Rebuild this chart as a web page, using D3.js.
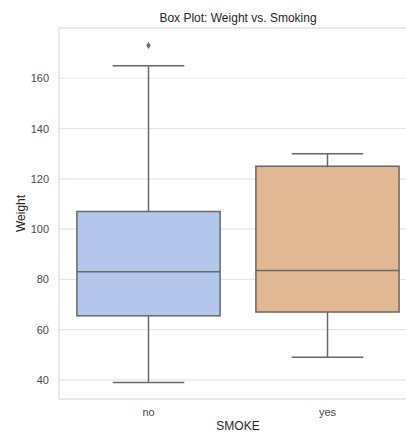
<!DOCTYPE html>
<html>
<head>
<meta charset="utf-8">
<script src="https://cdn.jsdelivr.net/npm/d3@7"></script>
<style>
  body { margin: 0; background: #fff; }
  text { font-family: "Liberation Sans", Arial, sans-serif; }
</style>
</head>
<body>
<svg class="boxplot" width="406" height="432"></svg>
<script>
// data
var categories = ['no', 'yes'];
var whiskerLow = [39, 49];
var q1 = [65.5, 67];
var median = [83, 83.5];
var q3 = [107, 125];
var whiskerHigh = [165, 130];
var outliers = [[173], []];
var yTicks = [40, 60, 80, 100, 120, 140, 160];
var fills = ['#b3c7ea', '#e0b894'];

var svg = d3.select('svg.boxplot');

// plot area (right side runs off the picture, like the reference)
var padding = {t: 28, l: 59, b: 399, r: 417};

var yScale = d3.scaleLinear().domain([32.4, 180]).range([padding.b, padding.t]);
var xScale = d3.scaleBand().domain(categories).range([padding.l, padding.r]).paddingInner(0).paddingOuter(0);

var lineColor = '#686868';
var boxW = xScale.bandwidth() * 0.8;
var capW = boxW * 0.5;

// grid lines
svg.append('g').selectAll('line')
  .data(yTicks)
  .enter()
  .append('line')
  .attr('x1', padding.l).attr('x2', padding.r)
  .attr('y1', function(d) { return yScale(d); })
  .attr('y2', function(d) { return yScale(d); })
  .attr('stroke', '#e6e6e6')
  .attr('stroke-width', 1.2);

// frame
svg.append('rect')
  .attr('x', padding.l).attr('y', padding.t)
  .attr('width', padding.r - padding.l).attr('height', padding.b - padding.t)
  .attr('fill', 'none')
  .attr('stroke', '#dcdcdc')
  .attr('stroke-width', 1.2);

// y axis
var yAxis = svg.append('g')
  .attr('transform', 'translate(' + padding.l + ',0)')
  .call(d3.axisLeft(yScale).tickValues(yTicks).tickSize(0).tickPadding(10));
yAxis.select('.domain').remove();
yAxis.selectAll('text').attr('font-size', 11).attr('fill', '#4a4a4a')
  .attr('font-family', '"Liberation Sans", Arial, sans-serif');

// x axis
var xAxis = svg.append('g')
  .attr('transform', 'translate(0,' + padding.b + ')')
  .call(d3.axisBottom(xScale).tickSize(0).tickPadding(9));
xAxis.select('.domain').remove();
xAxis.selectAll('text').attr('font-size', 11).attr('fill', '#4a4a4a')
  .attr('font-family', '"Liberation Sans", Arial, sans-serif');

// boxes
var boxes = svg.append('g').selectAll('g')
  .data(categories)
  .enter()
  .append('g')
  .attr('transform', function(d) { return 'translate(' + (xScale(d) + xScale.bandwidth() / 2) + ',0)'; });

// whiskers
boxes.append('line')
  .attr('x1', 0).attr('x2', 0)
  .attr('y1', function(d, i) { return yScale(whiskerHigh[i]); })
  .attr('y2', function(d, i) { return yScale(q3[i]); })
  .attr('stroke', lineColor).attr('stroke-width', 1.5);
boxes.append('line')
  .attr('x1', 0).attr('x2', 0)
  .attr('y1', function(d, i) { return yScale(q1[i]); })
  .attr('y2', function(d, i) { return yScale(whiskerLow[i]); })
  .attr('stroke', lineColor).attr('stroke-width', 1.5);
// caps
boxes.append('line')
  .attr('x1', -capW / 2).attr('x2', capW / 2)
  .attr('y1', function(d, i) { return yScale(whiskerHigh[i]); })
  .attr('y2', function(d, i) { return yScale(whiskerHigh[i]); })
  .attr('stroke', lineColor).attr('stroke-width', 1.5);
boxes.append('line')
  .attr('x1', -capW / 2).attr('x2', capW / 2)
  .attr('y1', function(d, i) { return yScale(whiskerLow[i]); })
  .attr('y2', function(d, i) { return yScale(whiskerLow[i]); })
  .attr('stroke', lineColor).attr('stroke-width', 1.5);

// box body
boxes.append('rect')
  .attr('x', -boxW / 2).attr('width', boxW)
  .attr('y', function(d, i) { return yScale(q3[i]); })
  .attr('height', function(d, i) { return yScale(q1[i]) - yScale(q3[i]); })
  .attr('fill', function(d, i) { return fills[i]; })
  .attr('stroke', lineColor).attr('stroke-width', 1.5);

// median
boxes.append('line')
  .attr('x1', -boxW / 2).attr('x2', boxW / 2)
  .attr('y1', function(d, i) { return yScale(median[i]); })
  .attr('y2', function(d, i) { return yScale(median[i]); })
  .attr('stroke', lineColor).attr('stroke-width', 1.5);

// outliers (thin diamonds)
boxes.each(function(d, i) {
  d3.select(this).selectAll('path.flier')
    .data(outliers[i])
    .enter()
    .append('path')
    .attr('class', 'flier')
    .attr('d', function(v) {
      var y = yScale(v);
      return 'M0,' + (y - 3.5) + 'L2.2,' + y + 'L0,' + (y + 3.5) + 'L-2.2,' + y + 'Z';
    })
    .attr('fill', lineColor);
});

// title & labels
svg.append('text')
  .attr('x', 238).attr('y', 22)
  .attr('text-anchor', 'middle')
  .attr('font-size', 12).attr('fill', '#262626')
  .text('Box Plot: Weight vs. Smoking');

svg.append('text')
  .attr('transform', 'translate(25,' + ((padding.t + padding.b) / 2) + ') rotate(-90)')
  .attr('text-anchor', 'middle')
  .attr('font-size', 12).attr('fill', '#262626')
  .text('Weight');

svg.append('text')
  .attr('x', 238).attr('y', 430)
  .attr('text-anchor', 'middle')
  .attr('font-size', 12).attr('fill', '#262626')
  .text('SMOKE');
</script>
</body>
</html>
